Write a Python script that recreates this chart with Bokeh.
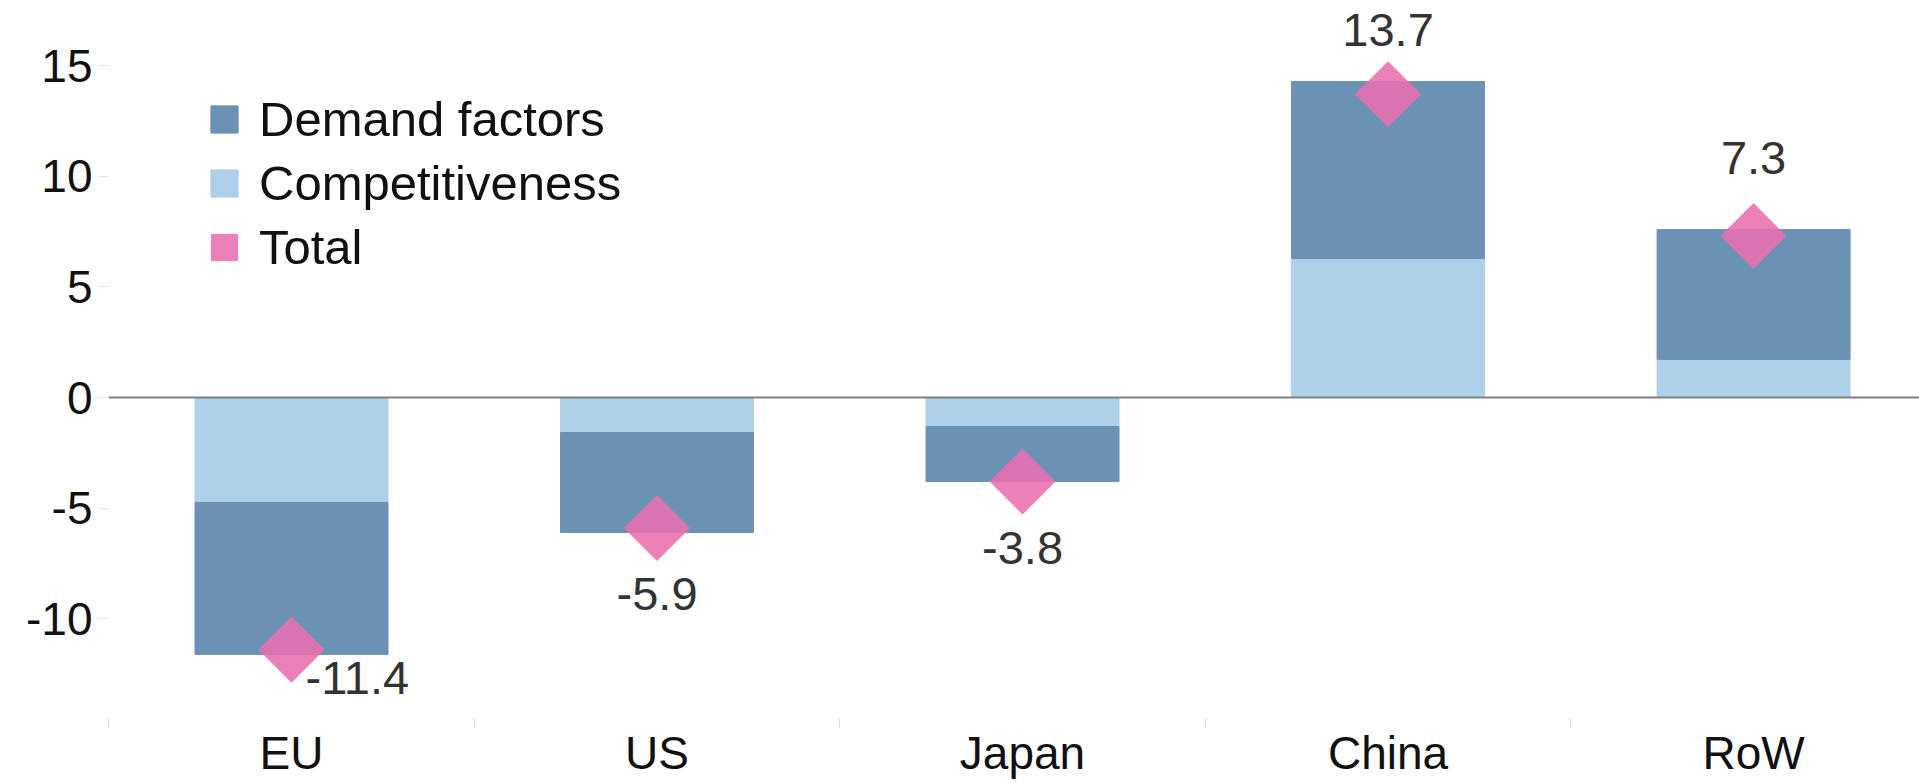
import numpy as np
from bokeh.plotting import figure
from bokeh.models import FixedTicker, Span, Legend, LegendItem, ColumnDataSource, Range1d
from bokeh.embed import file_html
from bokeh.resources import INLINE
from bokeh.core.properties import value

# ---- data ----
categories = ["EU", "US", "Japan", "China", "RoW"]
competitiveness = [-4.74, -1.58, -1.31, 6.28, 1.72]
demand_factors = [-6.87, -4.52, -2.49, 8.00, 5.87]
total = [-11.4, -5.9, -3.8, 13.7, 7.3]
y_ticks = [-10, -5, 0, 5, 10, 15]

# ---- style (label placement in px, not data) ----
label_dx = [14, 0, 0, 0, 0]
label_dy = [28, 66, 66, -64, -78]
label_align = ["left", "center", "center", "center", "center"]

FONT = "Liberation Sans"
C_DEM = "#6b92b5"
C_COMP = "#aed1e9"
C_TOT = "#e96faf"

xs = list(range(len(categories)))
dem_top = [c + d for c, d in zip(competitiveness, demand_factors)]

src = ColumnDataSource(dict(
    x=xs,
    comp=competitiveness,
    zero=[0] * len(xs),
    dem_top=dem_top,
    total=total,
    lbl=[f"{v:.1f}" for v in total],
    dx=label_dx,
    dy=label_dy,
    align=label_align,
))

p = figure(width=1919, height=783,
           x_range=Range1d(-0.5007, 4.454), y_range=Range1d(-14.505, 17.94),
           output_backend="svg", toolbar_location=None,
           min_border_left=108, min_border_right=0, min_border_top=0, min_border_bottom=65)
p.outline_line_color = None
p.background_fill_color = "white"
p.xgrid.visible = False
p.ygrid.visible = False

r_comp = p.vbar(x="x", bottom="zero", top="comp", width=0.528, source=src,
                fill_color=C_COMP, line_color=C_COMP)
r_dem = p.vbar(x="x", bottom="comp", top="dem_top", width=0.528, source=src,
               fill_color=C_DEM, line_color=C_DEM)

p.add_layout(Span(location=0, dimension="width", line_color="#808080", line_width=2))

p.scatter(x="x", y="total", marker="square", size=46.7, angle=np.pi / 4, source=src,
          fill_color=C_TOT, fill_alpha=0.88, line_color=None)

# zero-width bars: only serve as the square legend patch of "Total"
r_tot_leg = p.vbar(x="x", top="total", width=0, source=src,
                   fill_color=C_TOT, fill_alpha=0.88, line_color=None)

p.text(x="x", y="total", text="lbl", x_offset="dx", y_offset="dy", text_align="align",
       text_baseline="alphabetic", source=src,
       text_font=value(FONT), text_font_size="47px", text_color="#333333")

# axes
xa = p.xaxis[0]
xa.ticker = FixedTicker(ticks=xs, minor_ticks=[i - 0.5 for i in range(len(xs) + 1)])
xa.major_label_overrides = {i: c for i, c in enumerate(categories)}
xa.axis_line_color = None
xa.major_tick_line_color = None
xa.major_tick_out = 0
xa.major_tick_in = 0
xa.minor_tick_line_color = "#d9d9d9"
xa.minor_tick_out = 9
xa.minor_tick_in = 0
xa.major_label_standoff = -1
xa.major_label_text_font = FONT
xa.major_label_text_font_size = "46px"
xa.major_label_text_color = "#111111"

ya = p.yaxis[0]
ya.ticker = FixedTicker(ticks=y_ticks)
ya.major_label_overrides = {t: str(t) for t in y_ticks}
ya.axis_line_color = None
ya.major_tick_line_color = "#e6e6e6"
ya.major_tick_out = 10
ya.major_tick_in = 0
ya.minor_tick_line_color = None
ya.major_label_standoff = 6
ya.major_label_text_font = FONT
ya.major_label_text_font_size = "46px"
ya.major_label_text_color = "#111111"

legend = Legend(items=[
    LegendItem(label="Demand factors", renderers=[r_dem]),
    LegendItem(label="Competitiveness", renderers=[r_comp]),
    LegendItem(label="Total", renderers=[r_tot_leg]),
], location=(99, 443))
legend.orientation = "vertical"
legend.padding = 0
legend.margin = 0
legend.spacing = 8
legend.border_line_color = None
legend.background_fill_alpha = 0
legend.glyph_width = 34
legend.glyph_height = 34
legend.label_height = 53
legend.label_standoff = 18
legend.label_text_font = FONT
legend.label_text_font_size = "49px"
legend.label_text_color = "#111111"
p.add_layout(legend)

open("out.html", "w").write(file_html(p, INLINE))
